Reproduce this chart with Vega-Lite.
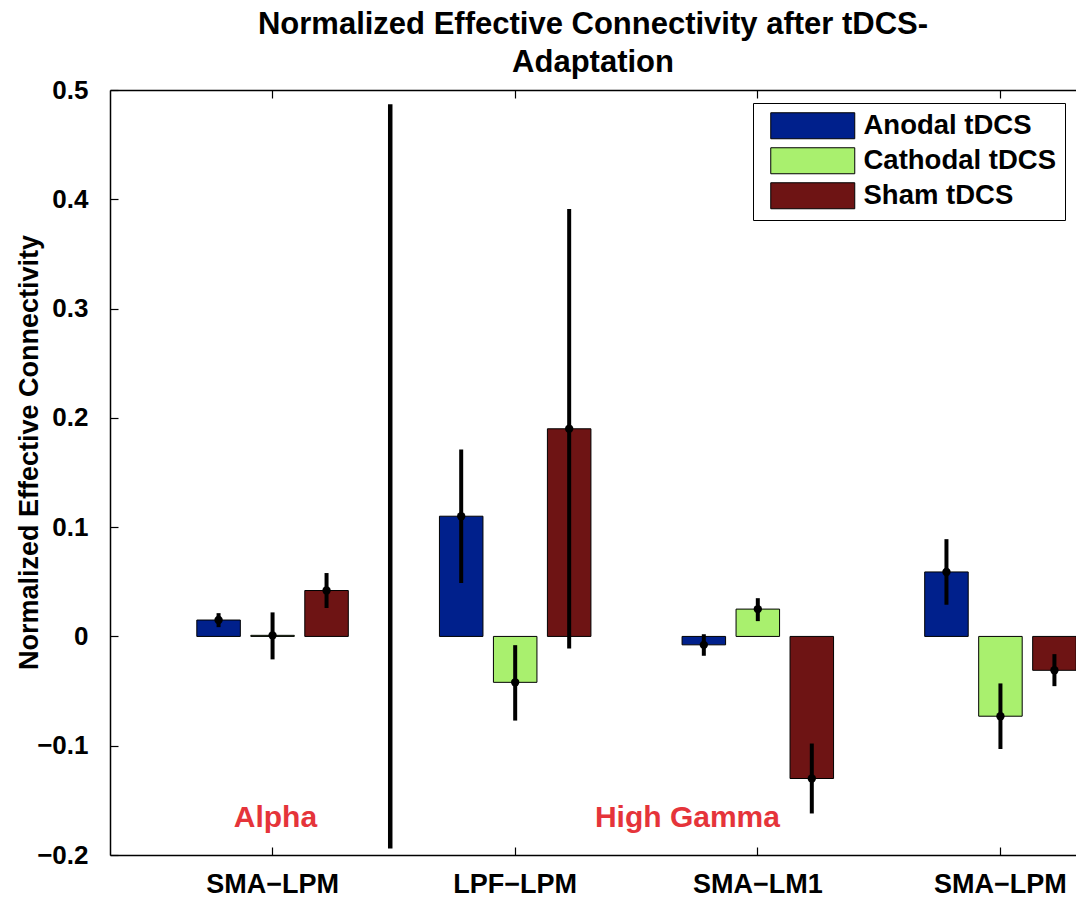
{
  "$schema": "https://vega.github.io/schema/vega-lite/v6.json",
  "autosize": {"type": "none"},
  "width": 966,
  "height": 765,
  "padding": {"left": 110, "top": 90, "right": 0, "bottom": 42},
  "background": "white",
  "config": {
    "view": {"stroke": null},
    "font": "Liberation Sans",
    "axis": {"grid": false, "domainColor": "black", "domainWidth": 1.5, "tickColor": "black", "tickWidth": 1.2, "labelColor": "black", "titleColor": "black", "labelFont": "Liberation Sans", "titleFont": "Liberation Sans"}
  },
  "title": {
    "text": ["Normalized Effective Connectivity after tDCS-", "Adaptation"],
    "font": "Liberation Sans",
    "fontSize": 31,
    "fontWeight": "bold",
    "color": "black",
    "anchor": "middle",
    "frame": "group",
    "lineHeight": 38,
    "offset": -2
  },
  "datasets": {
    "bars": [
      {"group": "Alpha · SMA−LPM", "condition": "Anodal tDCS", "value": 0.015, "lo": 0.0085, "hi": 0.0213},
      {"group": "Alpha · SMA−LPM", "condition": "Cathodal tDCS", "value": 0.001, "lo": -0.021, "hi": 0.022},
      {"group": "Alpha · SMA−LPM", "condition": "Sham tDCS", "value": 0.042, "lo": 0.026, "hi": 0.058},
      {"group": "High Gamma · LPF−LPM", "condition": "Anodal tDCS", "value": 0.11, "lo": 0.049, "hi": 0.171},
      {"group": "High Gamma · LPF−LPM", "condition": "Cathodal tDCS", "value": -0.042, "lo": -0.077, "hi": -0.008},
      {"group": "High Gamma · LPF−LPM", "condition": "Sham tDCS", "value": 0.19, "lo": -0.011, "hi": 0.391},
      {"group": "High Gamma · SMA−LM1", "condition": "Anodal tDCS", "value": -0.0077, "lo": -0.0177, "hi": 0.002},
      {"group": "High Gamma · SMA−LM1", "condition": "Cathodal tDCS", "value": 0.025, "lo": 0.014, "hi": 0.035},
      {"group": "High Gamma · SMA−LM1", "condition": "Sham tDCS", "value": -0.13, "lo": -0.162, "hi": -0.098},
      {"group": "High Gamma · SMA−LPM", "condition": "Anodal tDCS", "value": 0.059, "lo": 0.029, "hi": 0.089},
      {"group": "High Gamma · SMA−LPM", "condition": "Cathodal tDCS", "value": -0.073, "lo": -0.103, "hi": -0.043},
      {"group": "High Gamma · SMA−LPM", "condition": "Sham tDCS", "value": -0.031, "lo": -0.0455, "hi": -0.0162}
    ],
    "divider": [
      {"group": "Alpha · SMA−LPM", "top": 0.487, "bottom": -0.194}
    ],
    "bandLabels": [
      {"group": "Alpha · SMA−LPM", "label": "Alpha", "y": -0.174}
    ],
    "bandLabels2": [
      {"group": "High Gamma · SMA−LM1", "label": "High Gamma", "y": -0.174}
    ]
  },
  "resolve": {"axis": {"x": "independent", "y": "independent"}},
  "layer": [
    {
      "mark": {"type": "rule", "color": "black", "strokeWidth": 1},
      "encoding": {"y": {"datum": 0, "type": "quantitative", "axis": null}}
    },
    {
      "data": {"name": "bars"},
      "mark": {"type": "bar", "stroke": "black", "strokeWidth": 1, "opacity": 1},
      "encoding": {
        "x": {
          "field": "group", "type": "nominal", "sort": null,
          "scale": {"domain": ["Alpha · SMA−LPM", "High Gamma · LPF−LPM", "High Gamma · SMA−LM1", "High Gamma · SMA−LPM"], "range": [0, 1053], "paddingInner": 0, "paddingOuter": 0.17},
          "axis": {"orient": "bottom", "title": null, "labelAngle": 0, "tickSize": -8, "labelPadding": 24, "labelFontSize": 27, "labelFontWeight": "bold", "labelExpr": "split(datum.label, ' · ')[1]", "labelBaseline": "top"}
        },
        "xOffset": {
          "field": "condition", "type": "nominal",
          "scale": {"domain": ["Anodal tDCS", "Cathodal tDCS", "Sham tDCS"], "paddingInner": 0.194, "paddingOuter": 0.844}
        },
        "y": {
          "field": "value", "type": "quantitative",
          "scale": {"domain": [-0.2, 0.5], "nice": false, "zero": false},
          "axis": {"orient": "left", "title": "Normalized Effective Connectivity", "values": [-0.2, -0.1, 0, 0.1, 0.2, 0.3, 0.4, 0.5], "labelExpr": "datum.value == 0 ? '0' : format(datum.value, '.1f')", "tickSize": -8, "labelPadding": 30, "labelFontSize": 26, "labelFontWeight": "bold", "titleFontSize": 27, "titleFontWeight": "bold", "titleX": -81, "titleY": 362, "titleAngle": -90, "titleBaseline": "middle", "titleAnchor": null}
        },
        "color": {
          "field": "condition", "type": "nominal",
          "scale": {"domain": ["Anodal tDCS", "Cathodal tDCS", "Sham tDCS"], "range": ["#00208c", "#a9f06e", "#6e1414"]},
          "legend": {
            "orient": "none", "legendX": 643, "legendY": 13, "title": null,
            "strokeColor": "black", "fillColor": "white", "padding": 9,
            "symbolType": "M-1,-1H5.4615V1H-1Z", "symbolSize": 676,
            "symbolStrokeColor": "black", "symbolStrokeWidth": 1, "symbolOpacity": 1, "symbolOffset": 8,
            "labelFontSize": 27.5, "labelFontWeight": "bold", "labelColor": "black", "labelFont": "Liberation Sans",
            "labelOffset": 66, "rowPadding": 4, "labelLimit": 400
          }
        }
      }
    },
    {
      "data": {"name": "bars"},
      "mark": {"type": "rule", "color": "black", "strokeWidth": 4},
      "encoding": {
        "x": {"field": "group", "type": "nominal", "sort": null,
          "axis": {"orient": "top", "title": null, "labels": false, "tickSize": -8, "domain": true}},
        "xOffset": {"field": "condition", "type": "nominal"},
        "y": {"field": "lo", "type": "quantitative", "axis": null},
        "y2": {"field": "hi"}
      }
    },
    {
      "data": {"name": "bars"},
      "mark": {"type": "point", "filled": true, "color": "black", "size": 70, "opacity": 1, "shape": "circle"},
      "encoding": {
        "x": {"field": "group", "type": "nominal", "sort": null, "axis": null},
        "xOffset": {"field": "condition", "type": "nominal"},
        "y": {"field": "value", "type": "quantitative", "axis": null}
      }
    },
    {
      "data": {"name": "divider"},
      "mark": {"type": "rule", "color": "black", "strokeWidth": 4.5},
      "encoding": {
        "x": {"field": "group", "type": "nominal", "bandPosition": 0.985, "axis": null},
        "y": {"field": "top", "type": "quantitative", "axis": null},
        "y2": {"field": "bottom"}
      }
    },
    {
      "data": {"name": "bandLabels"},
      "mark": {"type": "text", "color": "#e5343a", "fontSize": 30, "fontWeight": "bold", "font": "Liberation Sans", "align": "center", "baseline": "alphabetic"},
      "encoding": {
        "x": {"field": "group", "type": "nominal", "bandPosition": 0.512, "axis": null},
        "y": {"field": "y", "type": "quantitative", "axis": null},
        "text": {"field": "label"}
      }
    },
    {
      "data": {"name": "bandLabels2"},
      "mark": {"type": "text", "color": "#e5343a", "fontSize": 30, "fontWeight": "bold", "font": "Liberation Sans", "align": "center", "baseline": "alphabetic"},
      "encoding": {
        "x": {"field": "group", "type": "nominal", "bandPosition": 0.21, "axis": null},
        "y": {"field": "y", "type": "quantitative", "axis": null},
        "text": {"field": "label"}
      }
    }
  ]
}
